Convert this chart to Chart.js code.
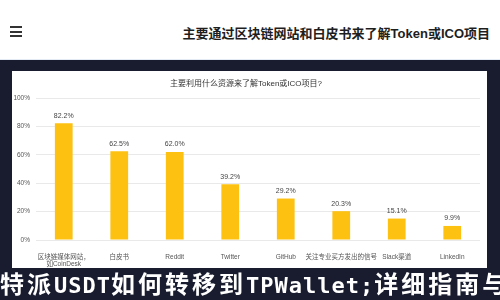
<!DOCTYPE html>
<html>
<head>
<meta charset="utf-8">
<script src="https://cdn.jsdelivr.net/npm/chart.js@4/dist/chart.umd.min.js"></script>
<style>
  html, body { margin: 0; padding: 0; }
  body { width: 500px; height: 300px; background: #181c2e; position: relative; overflow: hidden;
         font-family: "Liberation Sans", "Noto Sans CJK SC", sans-serif; }
  #topbar { position: absolute; left: 0; top: 0; width: 500px; height: 59px; background: #fff;
            border-bottom: 1px solid #e4eaf4; }
  #menu { position: absolute; left: 10px; top: 26px; width: 12px; }
  #menu div { height: 2px; background: #333; margin-bottom: 2.5px; }
  #title { position: absolute; right: 10px; top: 23px; font-size: 13px; font-weight: bold; color: #1e1e1e;
           font-family: "Liberation Sans", "Noto Sans CJK SC", sans-serif; white-space: nowrap; }
  #panel { position: absolute; left: 12px; top: 71px; width: 475px; height: 197px; background: #fff; }
  #bottom { position: absolute; left: 0; top: 269px; height: 28px; line-height: 28px; white-space: nowrap;
            color: #fff; font-size: 24px; font-weight: bold; letter-spacing: 3px;
            font-family: "Noto Sans CJK SC", sans-serif; }
  #bottom .lat { font-size: 22px; letter-spacing: 1px; font-family: "DejaVu Sans Mono", monospace; }
</style>
</head>
<body>
<div id="topbar">
  <div id="menu"><div></div><div></div><div></div></div>
  <div id="title">主要通过区块链网站和白皮书来了解Token或ICO项目</div>
</div>
<div id="panel"><canvas id="c" width="475" height="197"></canvas></div>
<div id="bottom">特派<span class="lat">USDT</span>如何转移到<span class="lat">TPWallet;</span>详细指南与技巧</div>
<script>
const categories = [['区块链媒体网站，', '如CoinDesk'], '白皮书', 'Reddit', 'Twitter', 'GitHub', '关注专业买方发出的信号', 'Slack渠道', 'LinkedIn'];
const shares = [82.2, 62.5, 62.0, 39.2, 29.2, 20.3, 15.1, 9.9];
const yTickLabels = ['0%', '20%', '40%', '60%', '80%', '100%'];
const chartTitle = '主要利用什么资源来了解Token或ICO项目?';

const valueLabels = {
  id: 'valueLabels',
  afterDatasetsDraw(chart) {
    const ctx = chart.ctx;
    const meta = chart.getDatasetMeta(0);
    ctx.save();
    ctx.font = '7px "Liberation Sans", "Noto Sans CJK SC", sans-serif';
    ctx.fillStyle = '#444';
    ctx.textAlign = 'center';
    ctx.textBaseline = 'bottom';
    meta.data.forEach((bar, i) => {
      ctx.fillText(shares[i].toFixed(1) + '%', bar.x, bar.y - 4);
    });
    ctx.restore();
  }
};

new Chart(document.getElementById('c'), {
  type: 'bar',
  data: {
    labels: categories,
    datasets: [{
      data: shares,
      backgroundColor: '#fdc112',
      barPercentage: 0.32,
      categoryPercentage: 1
    }]
  },
  options: {
    responsive: false,
    animation: false,
    events: [],
    layout: { padding: { left: 0, right: 7, top: 0, bottom: 0 } },
    plugins: {
      legend: { display: false },
      tooltip: { enabled: false },
      title: {
        display: true,
        text: chartTitle,
        color: '#333',
        font: { size: 8, weight: 'normal', family: '"Liberation Sans", "Noto Sans CJK SC", sans-serif' },
        padding: { top: 8, bottom: 9.4 }
      }
    },
    scales: {
      x: {
        grid: { display: false },
        border: { display: false },
        ticks: {
          color: '#555',
          font: { size: 6.5, family: '"Liberation Sans", "Noto Sans CJK SC", sans-serif' },
          maxRotation: 0, minRotation: 0, autoSkip: false, padding: 5
        },
        afterFit(scale) { scale.height = 28; }
      },
      y: {
        min: 0, max: 100,
        grid: { color: '#e9e9e9', drawTicks: false },
        border: { display: false },
        ticks: {
          stepSize: 20,
          color: '#555',
          padding: 6,
          font: { size: 6.5, family: '"Liberation Sans", sans-serif' },
          callback: (v) => yTickLabels[Math.round(v / 20)]
        },
        afterFit(scale) { scale.width = 24; }
      }
    }
  },
  plugins: [valueLabels]
});
</script>
</body>
</html>
